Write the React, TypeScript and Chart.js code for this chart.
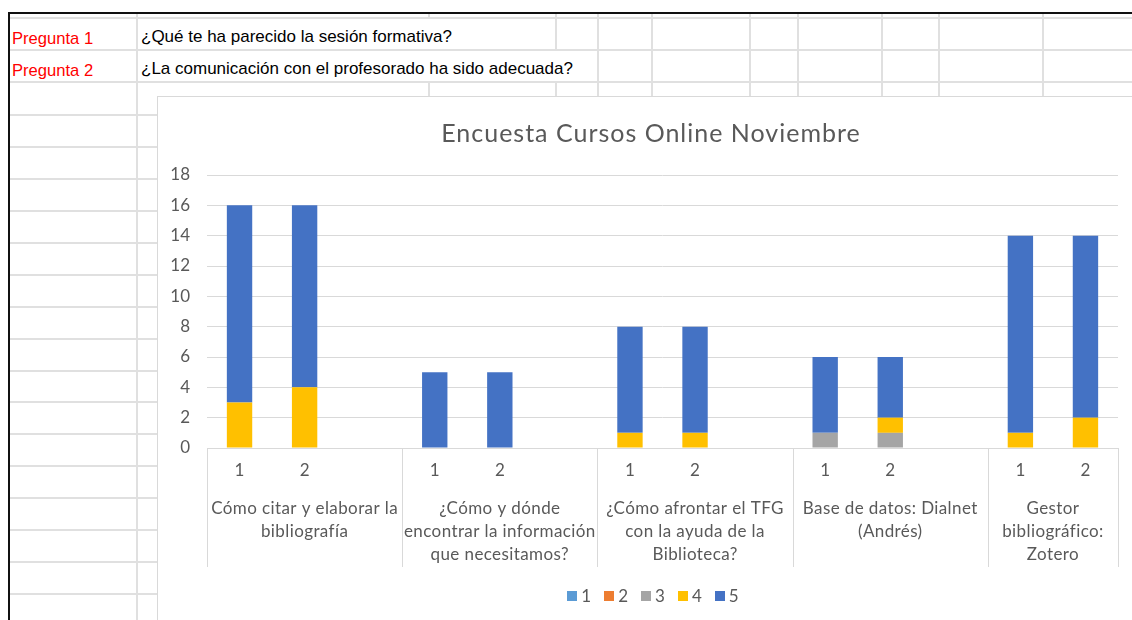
import React, { useEffect, useRef } from "react";
import { Chart, registerables } from "chart.js";

Chart.register(...registerables);

// ---------- data ----------
const chartTitle = "Encuesta Cursos Online Noviembre";
const sessions: string[][] = [
  ["Cómo citar y elaborar la", "bibliografía"],
  ["¿Cómo y dónde", "encontrar la información", "que necesitamos?"],
  ["¿Cómo afrontar el TFG", "con la ayuda de la", "Biblioteca?"],
  ["Base de datos: Dialnet", "(Andrés)"],
  ["Gestor", "bibliográfico:", "Zotero"],
];
const questions = ["1", "2"];
const ratingNames = ["1", "2", "3", "4", "5"];
// values per session, question 1 and question 2
const rating1 = [0, 0, 0, 0, 0, 0, 0, 0, 0, 0];
const rating2 = [0, 0, 0, 0, 0, 0, 0, 0, 0, 0];
const rating3 = [0, 0, 0, 0, 0, 0, 1, 1, 0, 0];
const rating4 = [3, 4, 0, 0, 1, 1, 0, 1, 1, 2];
const rating5 = [13, 12, 5, 5, 7, 7, 5, 4, 13, 12];
const ratingColors = ["#5B9BD5", "#ED7D31", "#A5A5A5", "#FFC000", "#4472C4"];
const yMax = 18;
const yStep = 2;

const sheetLabels = ["Pregunta 1", "Pregunta 2"];
const sheetQuestions = [
  "¿Qué te ha parecido la sesión formativa?",
  "¿La comunicación con el profesorado ha sido adecuada?",
];

// ---------- build category slots ----------
const slotLabels: string[] = [];
sessions.forEach((_, i) => {
  questions.forEach((q) => slotLabels.push(q));
  if (i < sessions.length - 1) slotLabels.push("");
});
function toSlots(values: number[]): (number | null)[] {
  const out: (number | null)[] = [];
  sessions.forEach((_, i) => {
    questions.forEach((__, j) => out.push(values[i * questions.length + j]));
    if (i < sessions.length - 1) out.push(null);
  });
  return out;
}
const allRatings = [rating1, rating2, rating3, rating4, rating5];

const TEXT = "#595959";
const FONT = "Lato";

const overlayPlugin = {
  id: "overlay",
  afterDraw(chart: any) {
    const ctx = chart.ctx as any;
    const xs = chart.scales.x;
    const area = chart.chartArea;
    const step = xs.getPixelForValue(1) - xs.getPixelForValue(0);
    ctx.save();
    const bounds: number[][] = [];
    let idx = 0;
    sessions.forEach((_, i) => {
      const n = questions.length + (i < sessions.length - 1 ? 1 : 0);
      bounds.push([idx, idx + n]);
      idx += n;
    });
    const edges = bounds
      .map((b) => xs.getPixelForValue(b[0]) - step / 2)
      .concat([xs.getPixelForValue(idx - 1) + step / 2]);
    ctx.strokeStyle = "#d9d9d9";
    ctx.lineWidth = 1;
    edges.forEach((x) => {
      const px = Math.round(x) + 0.5;
      ctx.beginPath();
      ctx.moveTo(px, area.bottom);
      ctx.lineTo(px, area.bottom + 119);
      ctx.stroke();
    });
    // group labels
    ctx.fillStyle = TEXT;
    ctx.font = `17px ${FONT}`;
    ctx.letterSpacing = "0.4px";
    ctx.textAlign = "center";
    ctx.textBaseline = "middle";
    sessions.forEach((lines, i) => {
      const cx = (edges[i] + edges[i + 1]) / 2;
      lines.forEach((line, j) => ctx.fillText(line, cx, area.bottom + 61 + j * 23));
    });
    // title
    ctx.font = `25px ${FONT}`;
    ctx.letterSpacing = "1px";
    ctx.textBaseline = "alphabetic";
    ctx.fillText(chartTitle, 493, 45);
    // legend
    ctx.font = `17px ${FONT}`;
    ctx.letterSpacing = "0px";
    ctx.textAlign = "left";
    ctx.textBaseline = "middle";
    const box = 10;
    const gap = 4;
    const itemGap = 13;
    const widths = ratingNames.map((n) => box + gap + ctx.measureText(n).width);
    const total = widths.reduce((a: number, b: number) => a + b, 0) + itemGap * (ratingNames.length - 1);
    let lx = 495 - total / 2;
    const ly = 499;
    ratingNames.forEach((n, i) => {
      ctx.fillStyle = ratingColors[i];
      ctx.fillRect(Math.round(lx), ly - box / 2, box, box);
      ctx.fillStyle = TEXT;
      ctx.fillText(n, lx + box + gap, ly + 1);
      lx += widths[i] + itemGap;
    });
    ctx.restore();
  },
};

function ChartCanvas() {
  const ref = useRef<HTMLCanvasElement>(null);
  useEffect(() => {
    if (!ref.current) return;
    const chart = new Chart(ref.current, {
      type: "bar",
      data: {
        labels: slotLabels,
        datasets: allRatings.map((vals, i) => ({
          label: ratingNames[i],
          data: toSlots(vals),
          backgroundColor: ratingColors[i],
          borderWidth: 0,
          barPercentage: 0.39,
          categoryPercentage: 1,
        })),
      },
      options: {
        responsive: false,
        animation: false,
        devicePixelRatio: 1,
        layout: { padding: { top: 78, right: 14, left: 0, bottom: 0 } },
        plugins: {
          legend: { display: false },
          title: { display: false },
          tooltip: { enabled: false },
        },
        scales: {
          x: {
            stacked: true,
            grid: { display: false, drawTicks: false },
            border: { display: true, color: "#d9d9d9", width: 1 },
            ticks: {
              color: TEXT,
              font: { family: FONT, size: 17 },
              padding: 12,
              maxRotation: 0,
              autoSkip: false,
            },
            afterFit: (s: any) => {
              s.height = 172;
            },
          },
          y: {
            stacked: true,
            min: 0,
            max: yMax,
            grid: { color: "#d9d9d9", drawTicks: false },
            border: { display: false },
            ticks: {
              stepSize: yStep,
              color: TEXT,
              font: { family: FONT, size: 17 },
              padding: 17,
            },
            afterFit: (s: any) => {
              s.width = 49;
            },
          },
        },
      },
      plugins: [overlayPlugin],
    });
    return () => chart.destroy();
  }, []);
  return (
    <canvas
      ref={ref}
      width={974}
      height={523}
      style={{ position: "absolute", left: 0, top: 0, width: 974, height: 523 }}
    />
  );
}

const GRID = "#e0e0e0";
const rowLines = [17, 49, 81, 114, 146, 178, 210, 242, 274, 306, 338, 370, 401, 433, 465, 497, 529, 561, 593];
const colLines = [136, 428, 555, 597, 651, 749, 797, 881, 938, 1042];

export default function App() {
  return (
    <div
      style={{
        position: "fixed",
        left: 0,
        top: 0,
        width: 1132,
        height: 620,
        overflow: "hidden",
        background: "#fff",
      }}
    >
      {rowLines.map((y) => (
        <div key={"r" + y} style={{ position: "absolute", left: 8, top: y, width: 1130, height: 2, background: GRID }} />
      ))}
      {colLines.map((x) => (
        <div key={"c" + x} style={{ position: "absolute", left: x, top: 12, width: 2, height: 620, background: GRID }} />
      ))}
      {/* text overflow cover */}
      <div style={{ position: "absolute", left: 138, top: 19, width: 416, height: 30, background: "#fff" }} />
      <div style={{ position: "absolute", left: 138, top: 51, width: 458, height: 30, background: "#fff" }} />
      {/* black borders */}
      <div style={{ position: "absolute", left: 8, top: 12, width: 1130, height: 2, background: "#111" }} />
      <div style={{ position: "absolute", left: 8, top: 12, width: 2, height: 620, background: "#111" }} />
      {sheetLabels.map((t, i) => (
        <div
          key={"l" + i}
          style={{
            position: "absolute",
            left: 12,
            top: 31 + i * 31.5,
            font: "16.6px 'Liberation Sans', Arial, sans-serif",
            lineHeight: "16px",
            color: "#ff0000",
            whiteSpace: "nowrap",
          }}
        >
          {t}
        </div>
      ))}
      {sheetQuestions.map((t, i) => (
        <div
          key={"q" + i}
          style={{
            position: "absolute",
            left: 141,
            top: 29 + i * 31.5,
            font: "17px 'Liberation Sans', Arial, sans-serif",
            lineHeight: "16px",
            color: "#000",
            whiteSpace: "nowrap",
          }}
        >
          {t}
        </div>
      ))}
      {/* chart box */}
      <div
        style={{
          position: "absolute",
          left: 157,
          top: 96,
          width: 1000,
          height: 600,
          borderTop: "1px solid #d9d9d9",
          borderLeft: "1px solid #d9d9d9",
          background: "#fff",
        }}
      >
        <ChartCanvas />
      </div>
    </div>
  );
}
